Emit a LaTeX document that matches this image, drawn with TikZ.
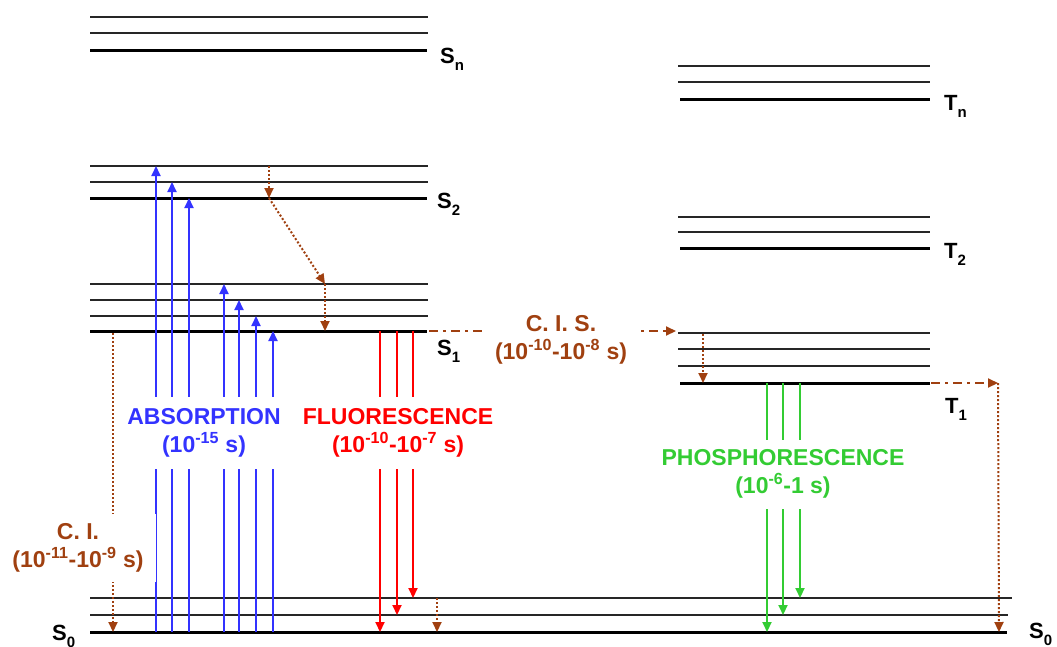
\documentclass[tikz,border=0pt]{standalone}
\usepackage{fontspec}
\setmainfont{Liberation Sans}
\usetikzlibrary{arrows.meta}
\definecolor{absblue}{RGB}{51,51,255}
\definecolor{fluored}{RGB}{255,0,0}
\definecolor{phosgreen}{RGB}{51,204,51}
\definecolor{icbrown}{RGB}{160,64,16}
% lowered index of a state label
\newcommand{\lvsub}[1]{\raisebox{-7pt}{\fontsize{15}{15}\selectfont #1}}
\tikzset{
  thinlvl/.style={line width=1.2pt, black!85},
  thicklvl/.style={line width=3pt, black},
  tip/.style={-{Triangle[length=10pt,width=9pt]}},
  absarrow/.style={tip, line width=2pt, absblue},
  fluoarrow/.style={tip, line width=2pt, fluored},
  phosarrow/.style={tip, line width=2pt, phosgreen},
  icarrow/.style={tip, line width=2pt, icbrown, dash pattern=on 2pt off 2pt},
  iscarrow/.style={tip, line width=2pt, icbrown, dash pattern=on 9pt off 5pt on 3pt off 5pt},
  statelbl/.style={font=\bfseries\fontsize{22}{26}\selectfont, anchor=base west, inner sep=0pt},
  proclbl/.style={font=\bfseries\fontsize{23}{28}\selectfont, align=center, fill=white, inner xsep=5pt}
}
\begin{document}
\begin{tikzpicture}[x=1pt,y=-1pt]
\useasboundingbox (0,0) rectangle (1057,646);

% singlet manifold
\foreach \y in {17,33,166,182,284,300,316} \draw[thinlvl] (90,\y) -- (428,\y);
\foreach \y in {50,198,331} \draw[thicklvl] (90,\y) -- (427,\y);
% ground state
\draw[thinlvl] (90,598) -- (1012,598);
\draw[thinlvl] (90,615) -- (1008,615);
\draw[thicklvl] (90,632) -- (1007,632);
% triplet manifold
\foreach \y in {66,82,217,232,333,349,366} \draw[thinlvl] (678,\y) -- (930,\y);
\foreach \y in {99,248,383} \draw[thicklvl] (680,\y) -- (930,\y);

% state labels
\node[statelbl] (Sn) at (440,63) {S\lvsub{n}};
\node[statelbl] (S2) at (437,208) {S\lvsub{2}};
\node[statelbl] (S1) at (437,355) {S\lvsub{1}};
\node[statelbl] (S0l) at (52,640) {S\lvsub{0}};
\node[statelbl] (S0r) at (1029,638) {S\lvsub{0}};
\node[statelbl] (Tn) at (944,110) {T\lvsub{n}};
\node[statelbl] (T2) at (944,258) {T\lvsub{2}};
\node[statelbl] (T1) at (945,413) {T\lvsub{1}};

% absorption
\foreach \x/\t [count=\i] in {156/166,172/182,189/198,224/284,239/300,256/316,273/331} {
  \coordinate (ab\i b) at (\x,632);
  \coordinate (ab\i t) at (\x,\t);
  \draw[absarrow] (ab\i b) -- (ab\i t);
}
% fluorescence
\foreach \x/\t [count=\i] in {380/632,397/615,413/598} {
  \coordinate (fl\i a) at (\x,331);
  \coordinate (fl\i b) at (\x,\t);
  \draw[fluoarrow] (fl\i a) -- (fl\i b);
}
% phosphorescence
\foreach \x/\t [count=\i] in {767/632,783/615,800/598} {
  \coordinate (ph\i a) at (\x,383);
  \coordinate (ph\i b) at (\x,\t);
  \draw[phosarrow] (ph\i a) -- (ph\i b);
}

% internal conversion and vibrational relaxation
\coordinate (v2a) at (269,166);
\coordinate (v2b) at (269,198);
\coordinate (v1a) at (325,284);
\coordinate (v1b) at (325,331);
\draw[icarrow] (v2a) -- (v2b);
\draw[icarrow] (v2b) -- (v1a);
\draw[icarrow] (v1a) -- (v1b);
\coordinate (ci a) at (113,333);
\coordinate (ci b) at (113,632);
\draw[icarrow] (ci a) -- (ci b);
\coordinate (g1a) at (437,598);
\coordinate (g1b) at (437,632);
\draw[icarrow] (g1a) -- (g1b);
\coordinate (t1a) at (703,334);
\coordinate (t1b) at (703,383);
\draw[icarrow] (t1a) -- (t1b);

% intersystem crossing
\coordinate (isc a) at (429,331);
\coordinate (isc b) at (676,331);
\draw[iscarrow] (isc a) -- (isc b);
\coordinate (ph a) at (931,383);
\coordinate (ph b) at (998,383);
\coordinate (ph c) at (999,632);
\draw[iscarrow] (ph a) -- (ph b);
\draw[icarrow] (ph b) -- (ph c);

% process labels
\node[proclbl, text=absblue, minimum height=72pt] (abs) at (204,433) {ABSORPTION\\(10\textsuperscript{-15} s)};
\node[proclbl, text=fluored, minimum height=72pt] (fluo) at (398,433) {FLUORESCENCE\\(10\textsuperscript{-10}-10\textsuperscript{-7} s)};
\node[proclbl, text=phosgreen, minimum height=69pt] (phos) at (783,474) {PHOSPHORESCENCE\\(10\textsuperscript{-6}-1 s)};
\node[proclbl, text=icbrown, inner xsep=11pt, minimum height=40pt] (cis) at (561,340) {C. I. S.\\(10\textsuperscript{-10}-10\textsuperscript{-8} s)};
\node[proclbl, text=icbrown, inner xsep=12pt, minimum height=68pt] (ci) at (78,548) {C. I.\\(10\textsuperscript{-11}-10\textsuperscript{-9} s)};
\end{tikzpicture}
\end{document}
